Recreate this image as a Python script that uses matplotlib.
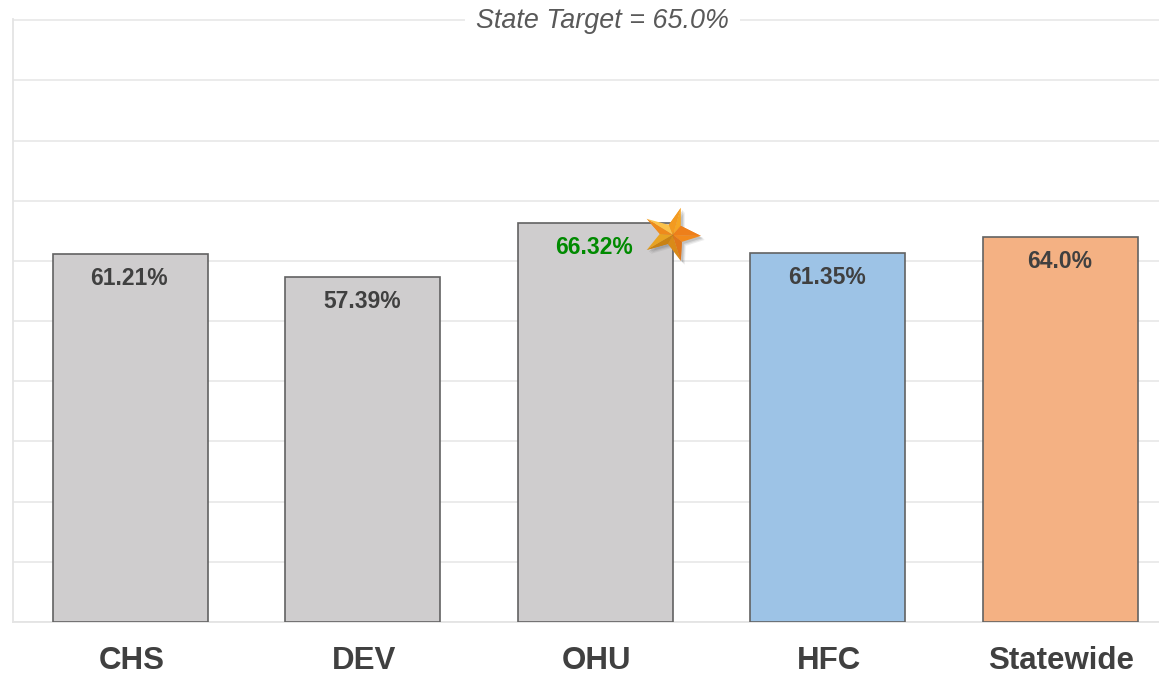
import numpy as np
import matplotlib
matplotlib.use("Agg")
import matplotlib.pyplot as plt
from matplotlib.patches import Polygon
from matplotlib.transforms import IdentityTransform, ScaledTranslation

categories = ["CHS", "DEV", "OHU", "HFC", "Statewide"]
values = [61.21, 57.39, 66.32, 61.35, 64.0]
value_labels = ["61.21%", "57.39%", "66.32%", "61.35%", "64.0%"]
bar_colors = ["#CFCDCE", "#CFCDCE", "#CFCDCE", "#9DC3E6", "#F4B183"]
label_colors = ["#404040", "#404040", "#008A00", "#404040", "#404040"]
title = "State Target = 65.0%"
star_index = 2

W, H = 1159, 674
plt.rcParams["font.family"] = ["Liberation Sans", "DejaVu Sans"]
fig = plt.figure(figsize=(W / 100, H / 100), dpi=100)
ax = fig.add_axes([13 / W, 1 - 622 / H, (W - 13) / W, 603 / H])
ax.set_xlim(-0.505, 4.425)
ax.set_ylim(0, 100.2)
ax.set_yticks(np.arange(0, 101, 10))
ax.tick_params(left=False, bottom=False, labelleft=False)
ax.grid(axis="y", color="#E8E8E8", lw=1.2, zorder=0)
ax.set_axisbelow(True)
for s in ["top", "right"]:
    ax.spines[s].set_visible(False)
for s in ["left", "bottom"]:
    ax.spines[s].set_color("#E4E4E4")
    ax.spines[s].set_linewidth(1.3)

x = np.arange(len(categories))
ax.bar(x, values, width=0.667, color=bar_colors, edgecolor="#626262", linewidth=1.2, zorder=3)
ax.set_xticks(x, categories)
ax.tick_params(axis="x", pad=13.5, labelsize=22.5, labelcolor="#404040")
shift = ScaledTranslation(1 / 100, 0, fig.dpi_scale_trans)
for l in ax.get_xticklabels():
    l.set_fontweight("bold")
    l.set_transform(l.get_transform() + shift)

for xi, v, t, c in zip(x, values, value_labels, label_colors):
    ax.annotate(t, (xi, v), xytext=(-1, -25), textcoords="offset pixels", ha="center", va="center",
                fontsize=16.5, fontweight="bold", color=c, zorder=5)

ax.text(0.514, 0.997, title, transform=ax.transAxes, ha="center", va="center", fontsize=19.4, style="italic",
        color="#595959", zorder=6, clip_on=False,
        bbox=dict(facecolor="white", edgecolor="none", pad=8))

# decorative star anchored on the top-right corner of the highlighted bar
ax_px = ax.transData.transform((x[star_index] + 0.667 / 2, values[star_index]))
cx, cy = ax_px[0], ax_px[1] - 12
tips = [(8, 27), (28, -1), (8, -26), (-26, -15), (-26, 16)]
inner = [(8, 9), (9, -7), (-5, -9), (-13, 1), (-4, 10)]
outline = []
for t, i in zip(tips, inner):
    outline += [t, i]
def P(pts, color, z=8, alpha=1.0):
    arr = np.array(pts, float) + [cx, cy]
    fig.add_artist(Polygon(arr, closed=True, facecolor=color, edgecolor="none", alpha=alpha,
                           transform=IdentityTransform(), zorder=z))
for k, a in ((4, 0.10), (3, 0.13), (2, 0.18)):
    P([(px + k, py - k) for px, py in outline], "#555555", 7, a)
c0 = (0, 0)
light = ["#F6A623", "#F28A1C", "#D98A18", "#E8A322", "#FBC24A"]
dark = ["#EE7F1A", "#E0761A", "#C98214", "#EE8A1C", "#F39A20"]
for j in range(5):
    P([c0, tips[j], inner[j]], light[j])
    P([c0, inner[j], tips[(j + 1) % 5]], dark[j])
    P([c0, inner[j - 1], tips[j]], dark[j - 1])

fig.savefig("out.png", dpi=100)
